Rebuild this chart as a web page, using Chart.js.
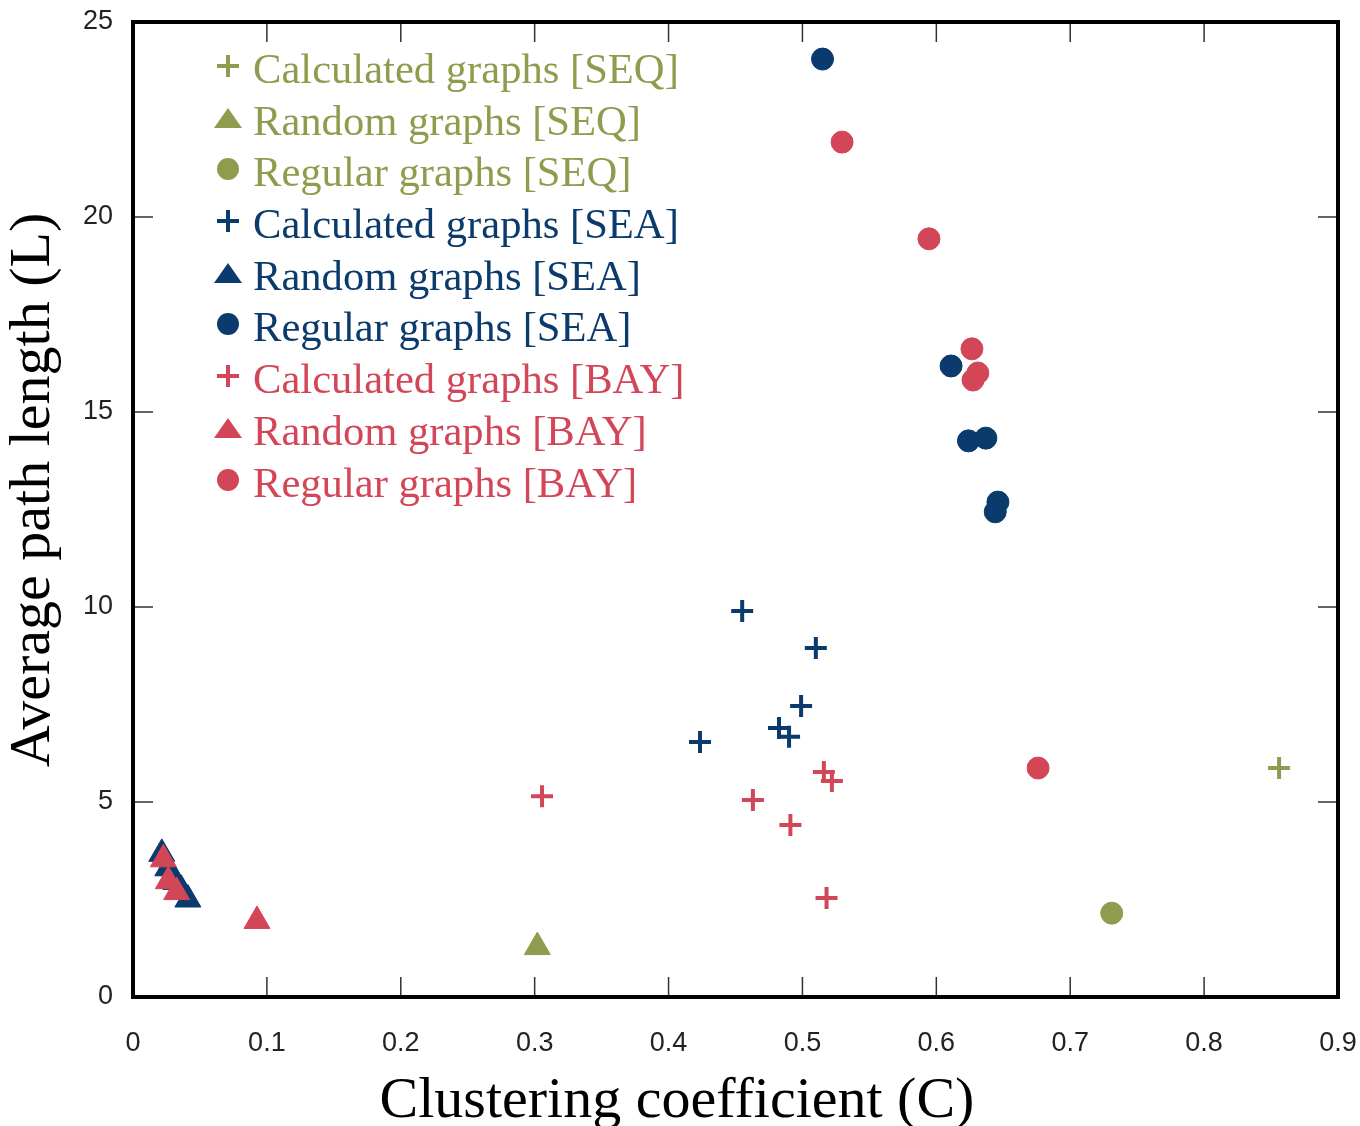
<!DOCTYPE html>
<html>
<head>
<meta charset="utf-8">
<script src="https://cdn.jsdelivr.net/npm/chart.js@4.4.0/dist/chart.umd.min.js"></script>
<style>
  body { margin: 0; background: #fff; }
  #wrap { position: relative; width: 1360px; height: 1126px; }
  #legend { position: absolute; left: 213px; top: 43px; font-family: 'Liberation Serif', 'Times New Roman', serif; font-size: 42.6px; }
  .row { display: flex; align-items: flex-start; height: 51.7px; line-height: 51.7px; white-space: nowrap; }
  .row svg { width: 30px; height: 51.7px; margin-right: 10px; flex: none; }
  .axis-title { position: absolute; font-family: 'Liberation Serif', 'Times New Roman', serif; font-size: 58px; line-height: 58px; height: 58px; text-align: center; white-space: nowrap; color: #000; }
  #xTitle { left: 0; width: 1354px; top: 1069px; }
  #yTitle { left: -370px; width: 800px; top: 461px; transform: rotate(-90deg); transform-origin: 50% 50%; }
</style>
</head>
<body>
<div id="wrap">
  <canvas id="scatterChart" width="1360" height="1126"></canvas>
  <div id="legend"></div>
  <div id="xTitle" class="axis-title"></div>
  <div id="yTitle" class="axis-title"></div>
</div>
<script>
// tick values + labels
const xTicks = [0, 0.1, 0.2, 0.3, 0.4, 0.5, 0.6, 0.7, 0.8, 0.9];
const xTickLabels = ['0', '0.1', '0.2', '0.3', '0.4', '0.5', '0.6', '0.7', '0.8', '0.9'];
const yTicks = [0, 5, 10, 15, 20, 25];
const yTickLabels = ['0', '5', '10', '15', '20', '25'];
const xTitle = 'Clustering coefficient (C)';
const yTitle = 'Average path length (L)';

// SEQ
const seqCalcC = [0.856];
const seqCalcL = [5.87];
const seqRandC = [0.302];
const seqRandL = [1.28];
const seqRegC = [0.731];
const seqRegL = [2.15];

// SEA
const seaCalcC = [0.455, 0.510, 0.499, 0.4825, 0.490, 0.4235];
const seaCalcL = [9.90, 8.95, 7.46, 6.90, 6.67, 6.54];
const seaRandC = [0.0215, 0.026, 0.032, 0.036, 0.041];
const seaRandL = [3.67, 3.30, 2.95, 2.75, 2.50];
const seaRegC = [0.515, 0.611, 0.624, 0.637, 0.646, 0.644];
const seaRegL = [24.05, 16.18, 14.26, 14.33, 12.69, 12.44];

// BAY
const bayCalcC = [0.3055, 0.516, 0.522, 0.463, 0.491, 0.518];
const bayCalcL = [5.15, 5.77, 5.54, 5.05, 4.41, 2.54];
const bayRandC = [0.0227, 0.0264, 0.0326, 0.0926];
const bayRandL = [3.53, 2.97, 2.69, 1.95];
const bayRegC = [0.5296, 0.5945, 0.6266, 0.631, 0.6274, 0.676];
const bayRegL = [21.92, 19.44, 16.62, 16.00, 15.82, 5.87];

const green = '#8f9c4e';
const blue = '#0b3a6c';
const red = '#d34657';

const sans = "'Liberation Sans', Arial, sans-serif";

function pts(xs, ys) {
  return xs.map((x, i) => ({ x: x, y: ys[i] }));
}

// label, colour, marker, x, y, draw order (0 = on top)
const series = [
  ['Calculated graphs [SEQ]', green, 'cross', seqCalcC, seqCalcL, 2],
  ['Random graphs [SEQ]', green, 'triangle', seqRandC, seqRandL, 2],
  ['Regular graphs [SEQ]', green, 'circle', seqRegC, seqRegL, 2],
  ['Calculated graphs [SEA]', blue, 'cross', seaCalcC, seaCalcL, 1],
  ['Random graphs [SEA]', blue, 'triangle', seaRandC, seaRandL, 1],
  ['Regular graphs [SEA]', blue, 'circle', seaRegC, seaRegL, 1],
  ['Calculated graphs [BAY]', red, 'cross', bayCalcC, bayCalcL, 0],
  ['Random graphs [BAY]', red, 'triangle', bayRandC, bayRandL, 0],
  ['Regular graphs [BAY]', red, 'circle', bayRegC, bayRegL, 0],
];

const datasets = series.map(s => ({
  label: s[0],
  data: pts(s[3], s[4]),
  pointStyle: s[2],
  backgroundColor: s[1],
  borderColor: s[1],
  pointRadius: s[2] === 'triangle' ? 15 : 11,
  pointBorderWidth: s[2] === 'cross' ? 4 : 1,
  order: s[5],
}));

// frame + inward ticks on all four sides
const framePlugin = {
  id: 'frame',
  afterDraw(chart) {
    const ctx = chart.ctx;
    const a = chart.chartArea;
    const xs = chart.scales.x, ys = chart.scales.y;
    ctx.save();
    ctx.strokeStyle = '#333';
    ctx.lineWidth = 1.5;
    ctx.beginPath();
    xTicks.forEach(v => {
      const px = xs.getPixelForValue(v);
      ctx.moveTo(px, a.bottom); ctx.lineTo(px, a.bottom - 20);
      ctx.moveTo(px, a.top); ctx.lineTo(px, a.top + 20);
    });
    yTicks.forEach(v => {
      const py = ys.getPixelForValue(v);
      ctx.moveTo(a.left, py); ctx.lineTo(a.left + 20, py);
      ctx.moveTo(a.right, py); ctx.lineTo(a.right - 20, py);
    });
    ctx.stroke();
    ctx.strokeStyle = '#000';
    ctx.lineWidth = 4;
    ctx.strokeRect(a.left, a.top, a.right - a.left, a.bottom - a.top);
    ctx.restore();
  }
};

const scatterChart = new Chart(document.getElementById('scatterChart'), {
  type: 'scatter',
  data: { datasets: datasets },
  options: {
    responsive: false,
    animation: false,
    layout: { padding: { top: 22, right: 22, left: 0, bottom: 0 } },
    scales: {
      x: {
        type: 'linear', min: 0, max: 0.9,
        afterBuildTicks: s => { s.ticks = xTicks.map(v => ({ value: v })); },
        afterFit: s => { s.height = 129; s.paddingLeft = 0; s.paddingRight = 0; },
        grid: { display: false, drawTicks: false },
        border: { display: false },
        ticks: {
          autoSkip: false, maxRotation: 0, padding: 30,
          color: '#222', font: { family: sans, size: 27 },
          callback: (v, i) => xTickLabels[i],
        },
      },
      y: {
        type: 'linear', min: 0, max: 25,
        afterBuildTicks: s => { s.ticks = yTicks.map(v => ({ value: v })); },
        afterFit: s => { s.width = 133; s.paddingTop = 0; s.paddingBottom = 0; },
        grid: { display: false, drawTicks: false },
        border: { display: false },
        ticks: {
          padding: 20, color: '#222', font: { family: sans, size: 27 },
          callback: (v, i) => yTickLabels[i],
        },
      },
    },
    plugins: {
      legend: { display: false },
      tooltip: { enabled: false },
    },
  },
  plugins: [framePlugin],
});

document.getElementById('xTitle').textContent = xTitle;
document.getElementById('yTitle').textContent = yTitle;

// legend in the top-left of the plot
const marks = {
  cross: c => `<path d="M4 23 H26 M15 12 V34" stroke="${c}" stroke-width="4"/>`,
  triangle: c => `<polygon points="1,33 29,33 15,13" fill="${c}"/>`,
  circle: c => `<circle cx="15" cy="23" r="11" fill="${c}"/>`,
};
const legendEl = document.getElementById('legend');
series.forEach(s => {
  const row = document.createElement('div');
  row.className = 'row';
  row.style.color = s[1];
  row.innerHTML = `<svg viewBox="0 0 30 51.7">${marks[s[2]](s[1])}</svg><span>${s[0]}</span>`;
  legendEl.appendChild(row);
});
</script>
</body>
</html>
